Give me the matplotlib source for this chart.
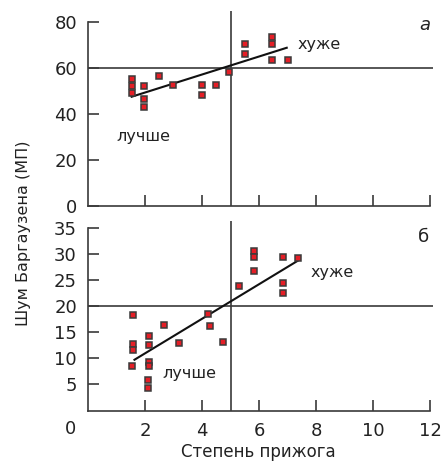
import matplotlib
matplotlib.use("Agg")
import matplotlib.pyplot as plt
import matplotlib.transforms as mtransforms

# ---- data (panel а) ----
a_x = [1.53, 1.53, 1.53, 1.98, 1.96, 1.96, 2.50, 2.99, 3.99, 3.99, 4.49, 4.94,
       5.51, 5.51, 6.47, 6.47, 6.47, 7.00]
a_y = [55.1, 52.2, 49.0, 52.3, 46.5, 43.2, 56.7, 52.6, 52.6, 48.4, 52.6, 58.1,
       70.3, 66.1, 73.3, 70.4, 63.5, 63.5]
a_fit_x = [1.53, 6.97]
a_fit_y = [47.5, 68.8]

# ---- data (panel б) ----
b_x = [1.59, 1.59, 1.59, 1.56, 2.67, 2.14, 2.14, 2.14, 2.14, 2.11, 2.11, 3.20,
       4.20, 4.28, 4.75, 5.31, 5.82, 5.82, 5.82, 6.85, 6.85, 6.85, 7.36]
b_y = [18.2, 12.6, 11.5, 8.3, 16.4, 14.1, 12.5, 9.2, 8.4, 5.6, 4.1, 12.8,
       18.4, 16.2, 13.1, 23.9, 30.7, 29.4, 26.8, 29.5, 24.4, 22.5, 29.2]
b_fit_x = [1.63, 7.35]
b_fit_y = [9.6, 28.7]

a_yticks = [0, 20, 40, 60, 80]
b_yticks = [5, 10, 15, 20, 25, 30, 35]
xticks = [2, 4, 6, 8, 10, 12]

plt.rcParams['font.family'] = ['DejaVu Sans']
W, H = 441, 463
fig = plt.figure(figsize=(W / 100, H / 100), dpi=100)

axc = '#3a3a3a'
mface = '#e41e26'
medge = '#3a3a3a'

def style(ax, ybounds):
    for s in ['top', 'right']:
        ax.spines[s].set_visible(False)
    for s in ['left', 'bottom']:
        ax.spines[s].set_color(axc)
        ax.spines[s].set_linewidth(1.2)
    ax.spines['left'].set_bounds(*ybounds)
    ax.spines['bottom'].set_bounds(0, 12)
    ax.tick_params(direction='in', length=8, width=1.2, color=axc,
                   labelsize=13, labelcolor='#222222', pad=8)

# top panel
ax1 = fig.add_axes([88 / W, 1 - 206 / H, 345 / W, (206 - 10.5) / H])
ax1.set_xlim(0, 12.1)
ax1.set_ylim(0, 85)
style(ax1, (0, 80))
ax1.set_yticks(a_yticks)
ax1.set_xticks(xticks)
ax1.tick_params(axis='x', labelbottom=False)
ax1.axhline(60, color=axc, lw=1.2)
ax1.axvline(5, color=axc, lw=1.2)
ax1.plot(a_fit_x, a_fit_y, color='#111111', lw=1.5)
ax1.plot(a_x, a_y, 's', ms=5, mfc=mface, mec=medge, mew=1.1)
ax1.text(11.8, 78.7, 'а', fontsize=13, style='italic', ha='center', va='center', color='#222222')
ax1.text(8.1, 70, 'хуже', fontsize=11.5, ha='center', va='center', color='#222222')
ax1.text(1.93, 30.4, 'лучше', fontsize=11.5, ha='center', va='center', color='#222222')

# bottom panel
ax2 = fig.add_axes([88 / W, 1 - 411 / H, 345 / W, (411 - 221) / H])
ax2.set_xlim(0, 12.1)
ax2.set_ylim(-0.3, 36.4)
style(ax2, (-0.3, 35))
ax2.set_yticks(b_yticks)
ax2.set_xticks(xticks)
ax2.axhline(20, color=axc, lw=1.2)
ax2.axvline(5, color=axc, lw=1.2)
ax2.plot(b_fit_x, b_fit_y, color='#111111', lw=1.5)
ax2.plot(b_x, b_y, 's', ms=5, mfc=mface, mec=medge, mew=1.1)
ax2.text(11.75, 33.3, 'б', fontsize=13, ha='center', va='center', color='#222222')
ax2.text(8.58, 26.5, 'хуже', fontsize=11.5, ha='center', va='center', color='#222222')
ax2.text(3.54, 6.85, 'лучше', fontsize=11.5, ha='center', va='center', color='#222222')

# corner "0"
fig.text(70 / W, 1 - 429 / H, '0', fontsize=13, ha='center', va='center', color='#222222')

fig.text(24 / W, 1 - 233 / H, 'Шум Баргаузена (МП)', rotation=90, fontsize=11.5,
         ha='center', va='center', color='#222222')
fig.text(258 / W, 1 - 452 / H, 'Степень прижога', fontsize=12, ha='center', va='center',
         color='#222222')

fig.savefig('out.png', dpi=100)
